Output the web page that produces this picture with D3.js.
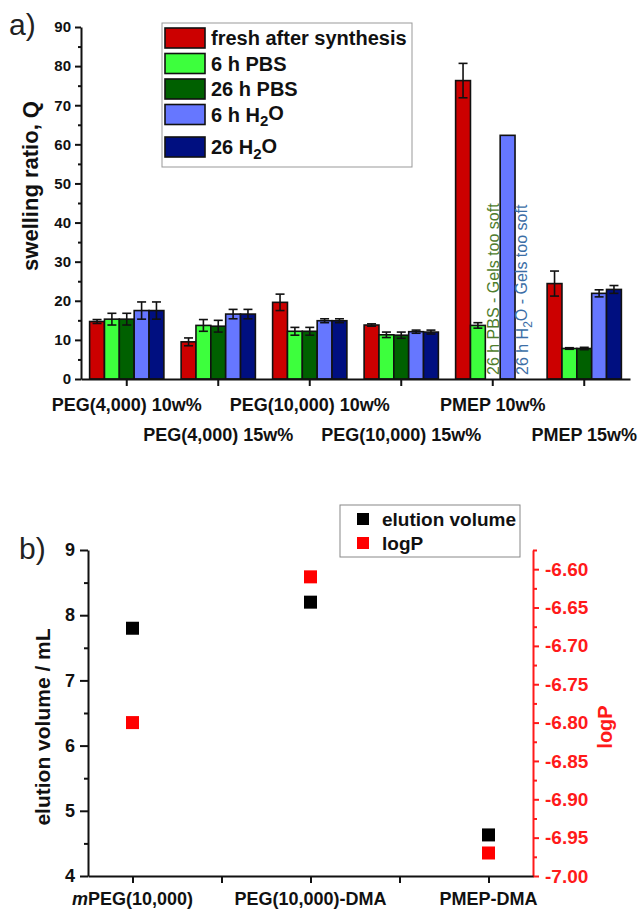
<!DOCTYPE html>
<html>
<head>
<meta charset="utf-8">
<script src="https://cdn.jsdelivr.net/npm/d3@7"></script>
<style>
  body { margin: 0; background: #fff; }
  svg { font-family: "Liberation Sans", Arial, sans-serif; }
  .axis path, .axis line { stroke: #111; stroke-width: 2px; }
  .axis text { fill: #111; font-weight: bold; }
</style>
</head>
<body>
<script>
// ---------- Panel a data ----------
const categoriesA = ["PEG(4,000) 10w%", "PEG(4,000) 15w%", "PEG(10,000) 10w%", "PEG(10,000) 15w%", "PMEP 10w%", "PMEP 15w%"];
const seriesNames = ["fresh after synthesis", "6 h PBS", "26 h PBS", "6 h H2O", "26 H2O"];
const seriesColors = ["#cc0000", "#3dff3d", "#006000", "#6677ff", "#000f80"];
const freshVals = [14.7, 9.5, 19.6, 13.8, 76.3, 24.4];
const freshErr  = [0.5, 1.0, 2.1, 0.3, 4.4, 3.2];
const pbs6Vals  = [15.3, 13.7, 12.2, 11.3, 13.7, 7.8];
const pbs6Err   = [1.5, 1.5, 1.0, 0.7, 0.7, 0.2];
const pbs26Vals = [15.3, 13.5, 12.2, 11.2, null, 7.8];
const pbs26Err  = [1.5, 1.5, 1.0, 0.8, null, 0.3];
const h2o6Vals  = [17.5, 16.6, 14.9, 12.1, 62.3, 21.9];
const h2o6Err   = [2.2, 1.2, 0.5, 0.4, null, 0.9];
const h2o26Vals = [17.5, 16.6, 14.9, 12.0, null, 22.9];
const h2o26Err  = [2.2, 1.2, 0.5, 0.5, null, 1.0];
const yTicksA = [0, 10, 20, 30, 40, 50, 60, 70, 80, 90];
const notesCat = "PMEP 10w%";
const notesSeries = ["26 h PBS", "26 H2O"];
const notesText = ["26 h PBS - Gels too soft", "26 h H2O -  Gels too soft"];
const notesColor = ["#4f7d2c", "#3b6ea6"];

// ---------- Panel b data ----------
const categoriesB = ["mPEG(10,000)", "PEG(10,000)-DMA", "PMEP-DMA"];
const elutionVals = [7.8, 8.2, 4.63];
const logPVals = [-6.80, -6.61, -6.97];
const yTicksBL = [4, 5, 6, 7, 8, 9];
const yTicksBR = [-7.00, -6.95, -6.90, -6.85, -6.80, -6.75, -6.70, -6.65, -6.60];

const seriesVals = [freshVals, pbs6Vals, pbs26Vals, h2o6Vals, h2o26Vals];
const seriesErrs = [freshErr, pbs6Err, pbs26Err, h2o6Err, h2o26Err];

const svg = d3.select("body").append("svg").attr("width", 641).attr("height", 911);
svg.append("rect").attr("width", 641).attr("height", 911).attr("fill", "#fff");

// text with H2O subscript
function richText(sel, str) {
  const parts = str.split("H2O");
  parts.forEach((p, i) => {
    if (i > 0) {
      sel.append("tspan").text("H");
      sel.append("tspan").attr("dy", "0.3em").attr("font-size", "0.75em").text("2");
      sel.append("tspan").attr("dy", "-0.3em").text("O" + p);
    } else {
      sel.append("tspan").text(p);
    }
  });
}

// ================= Panel a =================
const yA = d3.scaleLinear().domain([0, 90]).range([379, 27]);
const x0 = d3.scaleBand().domain(categoriesA).range([81, 630]);
const x1 = d3.scaleBand().domain(seriesNames).range([0, x0.bandwidth()]).paddingOuter(0.58);

const gA = svg.append("g");

// bars
seriesNames.forEach((name, s) => {
  categoriesA.forEach((cat, i) => {
    const v = seriesVals[s][i];
    if (v == null) return;
    gA.append("rect")
      .attr("x", x0(cat) + x1(name))
      .attr("y", yA(v))
      .attr("width", x1.bandwidth())
      .attr("height", yA(0) - yA(v))
      .attr("fill", seriesColors[s])
      .attr("stroke", "#111")
      .attr("stroke-width", 1.6);
  });
});
// error bars
seriesNames.forEach((name, s) => {
  categoriesA.forEach((cat, i) => {
    const v = seriesVals[s][i], e = seriesErrs[s][i];
    if (v == null || e == null) return;
    const cx = x0(cat) + x1(name) + x1.bandwidth() / 2;
    const g = gA.append("g").attr("stroke", "#111").attr("stroke-width", 1.6);
    g.append("line").attr("x1", cx).attr("x2", cx).attr("y1", yA(v - e)).attr("y2", yA(v + e));
    g.append("line").attr("x1", cx - 4.5).attr("x2", cx + 4.5).attr("y1", yA(v - e)).attr("y2", yA(v - e));
    g.append("line").attr("x1", cx - 4.5).attr("x2", cx + 4.5).attr("y1", yA(v + e)).attr("y2", yA(v + e));
  });
});

// notes
notesSeries.forEach((name, k) => {
  const cx = x0(notesCat) + x1(name) + x1.bandwidth() / 2;
  const t = gA.append("text")
    .attr("transform", `translate(${cx + 6},${yA(0) - 4}) rotate(-90)`)
    .attr("font-size", 16)
    .attr("fill", notesColor[k]);
  richText(t, notesText[k]);
});

// y axis
gA.append("g").attr("class", "axis").attr("transform", "translate(81,0)")
  .call(d3.axisLeft(yA).tickValues(yTicksA).tickSize(6).tickSizeOuter(0).tickPadding(4))
  .call(g => g.selectAll("text").attr("font-size", 15).attr("font-family", null));
gA.append("g").attr("class", "axis").attr("transform", "translate(81,0)")
  .call(d3.axisLeft(yA).tickValues(yTicksA.slice(0, -1).map(d => d + 5)).tickSize(3).tickSizeOuter(0).tickFormat(""))
  .call(g => g.select(".domain").remove());
// x axis
gA.append("g").attr("class", "axis").attr("transform", `translate(0,${yA(0)})`)
  .call(d3.axisBottom(x0).tickSize(7).tickSizeOuter(0).tickFormat(""));
categoriesA.forEach((c, i) => {
  gA.append("text")
    .attr("x", x0(c) + x0.bandwidth() / 2)
    .attr("y", i % 2 === 0 ? 411 : 441)
    .attr("text-anchor", "middle")
    .attr("font-size", 18).attr("font-weight", "bold").attr("fill", "#111")
    .text(c);
});
// y title
gA.append("text")
  .attr("transform", "translate(38,186) rotate(-90)")
  .attr("text-anchor", "middle").attr("font-size", 22).attr("font-weight", "bold").attr("fill", "#111")
  .text("swelling ratio, Q");
// panel label
svg.append("text").attr("x", 9).attr("y", 35).attr("font-size", 30).attr("fill", "#222").text("a)");

// legend a
const legA = svg.append("g");
legA.append("rect").attr("x", 162).attr("y", 23).attr("width", 250).attr("height", 144)
  .attr("fill", "#fff").attr("stroke", "#999").attr("stroke-width", 1);
seriesNames.forEach((name, i) => {
  const cy = 38 + i * 25.5 + (i === 4 ? 7 : 0);
  legA.append("rect").attr("x", 165).attr("y", cy - 10).attr("width", 40).attr("height", 20)
    .attr("fill", seriesColors[i]).attr("stroke", "#111").attr("stroke-width", 1.6);
  const t = legA.append("text").attr("x", 211).attr("y", cy + 7)
    .attr("font-size", 20).attr("font-weight", "bold").attr("fill", "#111");
  richText(t, name);
});

// ================= Panel b =================
const xB = d3.scaleLinear().domain([0.75, 3.25]).range([88, 533]);
const yBL = d3.scaleLinear().domain([4, 9]).range([876, 550]);
const yBR = d3.scaleLinear().domain([-7.0, -6.575]).range([876, 550]);
const gB = svg.append("g");

// left axis
gB.append("g").attr("class", "axis").attr("transform", "translate(88,0)")
  .call(d3.axisLeft(yBL).tickValues(yTicksBL).tickSize(8).tickSizeOuter(0).tickPadding(5).tickFormat(d3.format("d")))
  .call(g => g.selectAll("text").attr("font-size", 18).attr("font-family", null));
gB.append("g").attr("class", "axis").attr("transform", "translate(88,0)")
  .call(d3.axisLeft(yBL).tickValues(yTicksBL.slice(0, -1).map(d => d + 0.5)).tickSize(4).tickSizeOuter(0).tickFormat(""))
  .call(g => g.select(".domain").remove());
// right axis (red)
gB.append("g").attr("class", "axis").attr("transform", "translate(533,0)")
  .call(d3.axisRight(yBR).tickValues(yTicksBR).tickSize(6).tickSizeOuter(0).tickPadding(6).tickFormat(d => d.toFixed(2)))
  .call(g => g.selectAll("path,line").style("stroke", "#ff1a1a"))
  .call(g => g.selectAll("text").style("fill", "#ff1a1a").attr("font-size", 19).attr("font-family", null));
gB.append("g").attr("class", "axis").attr("transform", "translate(533,0)")
  .call(d3.axisRight(yBR).tickValues(yTicksBR.map(d => d + 0.025)).tickSize(4).tickSizeOuter(0).tickFormat(""))
  .call(g => g.select(".domain").remove())
  .call(g => g.selectAll("line").style("stroke", "#ff1a1a"));
// bottom axis
gB.append("g").attr("class", "axis").attr("transform", "translate(0,876)")
  .call(d3.axisBottom(xB).tickValues([1, 1.5, 2, 2.5, 3]).tickSize(7).tickSizeOuter(0).tickFormat(""));
categoriesB.forEach((c, i) => {
  const t = gB.append("text").attr("x", xB(i + 1)).attr("y", 905)
    .attr("text-anchor", "middle").attr("font-size", 18).attr("font-weight", "bold").attr("fill", "#111");
  if (c.startsWith("m")) {
    t.append("tspan").attr("font-style", "italic").text("m");
    t.append("tspan").text(c.slice(1));
  } else t.text(c);
});
// markers
const ms = 13;
categoriesB.forEach((c, i) => {
  gB.append("rect").attr("x", xB(i + 1) - ms / 2).attr("y", yBL(elutionVals[i]) - ms / 2)
    .attr("width", ms).attr("height", ms).attr("fill", "#000");
  gB.append("rect").attr("x", xB(i + 1) - ms / 2).attr("y", yBR(logPVals[i]) - ms / 2)
    .attr("width", ms).attr("height", ms).attr("fill", "#ff0000");
});
// titles
gB.append("text").attr("transform", "translate(50,727) rotate(-90)")
  .attr("text-anchor", "middle").attr("font-size", 21).attr("font-weight", "bold").attr("fill", "#111")
  .text("elution volume / mL");
gB.append("text").attr("transform", "translate(612,727) rotate(-90)")
  .attr("text-anchor", "middle").attr("font-size", 20).attr("font-weight", "bold").attr("fill", "#ff1a1a")
  .text("logP");
svg.append("text").attr("x", 19).attr("y", 559).attr("font-size", 30).attr("fill", "#222").text("b)");

// legend b
const legB = svg.append("g");
legB.append("rect").attr("x", 340).attr("y", 505).attr("width", 180).attr("height", 52)
  .attr("fill", "#fff").attr("stroke", "#888").attr("stroke-width", 1);
const legBNames = ["elution volume", "logP"];
const legBColors = ["#000", "#ff0000"];
legBNames.forEach((n, i) => {
  const cy = 519 + i * 24;
  legB.append("rect").attr("x", 357).attr("y", cy - 6).attr("width", 12).attr("height", 12).attr("fill", legBColors[i]);
  legB.append("text").attr("x", 382).attr("y", cy + 7).attr("font-size", 19).attr("font-weight", "bold")
    .attr("fill", "#111").text(n);
});
</script>
</body>
</html>
